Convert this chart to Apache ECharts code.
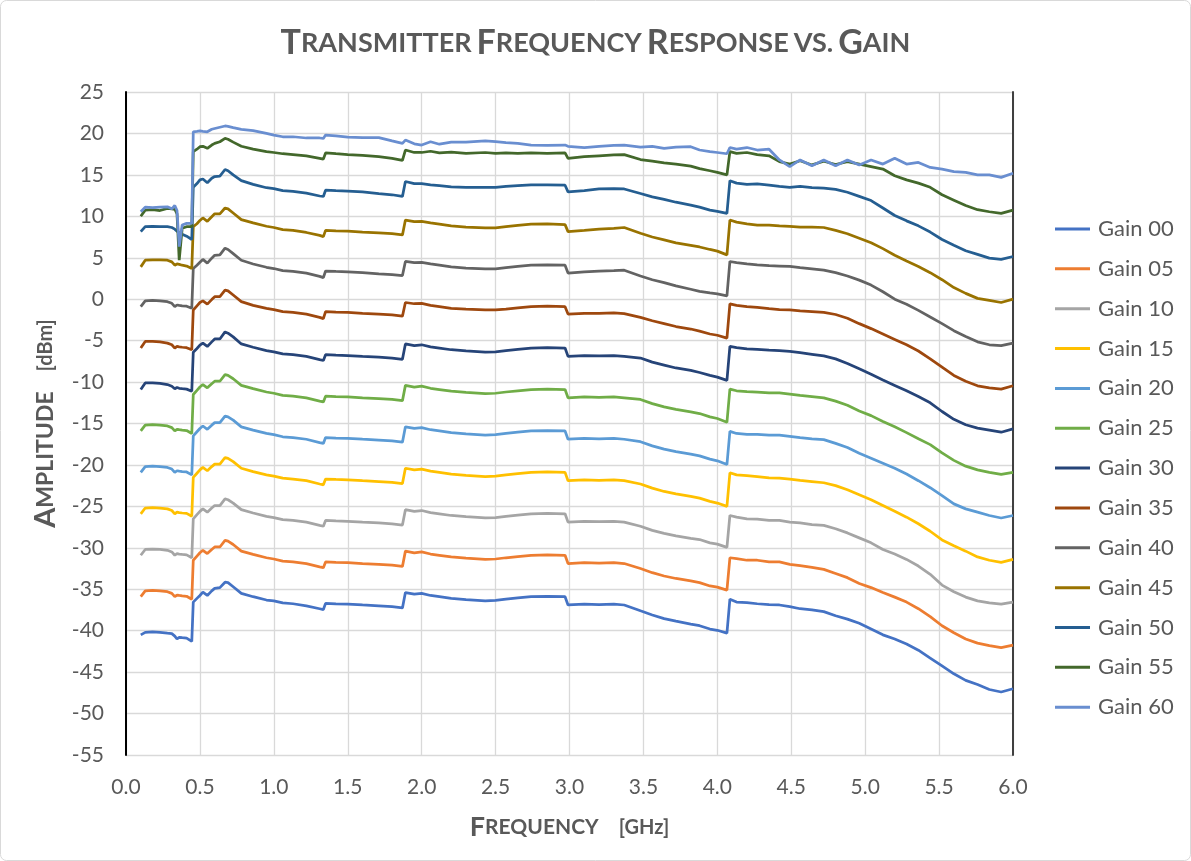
<!DOCTYPE html>
<html><head><meta charset="utf-8">
<script src="https://cdn.jsdelivr.net/npm/echarts@6/dist/echarts.min.js"></script>
<style>html,body{margin:0;padding:0;background:#fff}#c{width:1191px;height:861px}</style>
</head><body><div id="c"></div>
<script>
// Frequency sample points [GHz]
const freqs = [0.10,0.13,0.18,0.23,0.28,0.31,0.33,0.345,0.36,0.38,
 0.41,0.445,0.455,0.48,0.50,0.52,0.55,0.58,0.60,0.635,
 0.67,0.69,0.725,0.78,0.86,0.95,1.00,1.06,1.13,1.22,
 1.31,1.335,1.35,1.42,1.50,1.60,1.71,1.80,1.87,1.88,
 1.89,1.95,2.00,2.06,2.12,2.20,2.30,2.43,2.50,2.57,
 2.65,2.74,2.85,2.97,2.99,3.10,3.20,3.30,3.37,3.48,
 3.56,3.64,3.72,3.82,3.88,3.95,4.00,4.065,4.085,4.13,
 4.20,4.27,4.35,4.42,4.49,4.56,4.64,4.72,4.80,4.88,
 4.96,5.04,5.12,5.20,5.28,5.36,5.44,5.52,5.60,5.68,
 5.76,5.84,5.92,6.00];

const seriesNames = ['Gain 00','Gain 05','Gain 10','Gain 15','Gain 20','Gain 25','Gain 30','Gain 35','Gain 40','Gain 45','Gain 50','Gain 55','Gain 60'];
const seriesColors = ['#4472C4','#ED7D31','#A5A5A5','#FFC000','#5B9BD5','#70AD47','#264478','#9E480E','#636363','#997300','#255E91','#43682B','#698ED0'];

const xTicks = {min:0, max:6, step:0.5};
const yTicks = {min:-55, max:25, step:5};

const gain00 = [-40.5,-40.2,-40.15,-40.2,-40.3,-40.35,-40.65,-41.0,-40.8,-40.85,
 -40.9,-41.3,-36.55,-36.1,-35.75,-35.35,-35.75,-35.2,-34.9,-34.8,
 -34.15,-34.2,-34.7,-35.5,-35.9,-36.3,-36.4,-36.65,-36.75,-37.0,
 -37.35,-37.45,-36.7,-36.75,-36.8,-36.9,-37.0,-37.1,-37.25,-37.4,
 -35.4,-35.6,-35.5,-35.75,-35.9,-36.1,-36.25,-36.4,-36.35,-36.2,
 -36.05,-35.9,-35.85,-35.9,-36.9,-36.8,-36.85,-36.8,-36.9,-37.6,
 -38.1,-38.55,-38.85,-39.2,-39.4,-39.8,-39.95,-40.3,-36.2,-36.55,
 -36.6,-36.75,-36.85,-36.9,-37.1,-37.35,-37.5,-37.7,-38.2,-38.6,
 -39.1,-39.8,-40.5,-41.0,-41.6,-42.35,-43.3,-44.25,-45.2,-46.0,
 -46.5,-47.1,-47.4,-47.0];
const gain05 = [-35.9,-35.2,-35.15,-35.2,-35.3,-35.5,-35.9,-35.7,-35.75,-35.8,
 -35.85,-36.2,-31.5,-31.0,-30.6,-30.3,-30.7,-30.2,-29.9,-29.9,
 -29.1,-29.2,-29.6,-30.4,-30.8,-31.2,-31.35,-31.6,-31.7,-31.9,
 -32.3,-32.4,-31.7,-31.75,-31.8,-31.9,-32.0,-32.1,-32.25,-32.4,
 -30.4,-30.6,-30.5,-30.75,-30.9,-31.1,-31.25,-31.4,-31.35,-31.2,
 -31.05,-30.9,-30.85,-30.9,-31.9,-31.8,-31.85,-31.8,-31.9,-32.5,
 -33.0,-33.4,-33.7,-34.0,-34.2,-34.6,-34.75,-35.1,-31.2,-31.3,
 -31.5,-31.5,-31.7,-31.7,-32.0,-32.15,-32.35,-32.6,-33.1,-33.6,
 -34.3,-34.8,-35.4,-35.95,-36.55,-37.35,-38.3,-39.4,-40.25,-41.0,
 -41.5,-41.8,-42.05,-41.75];
const gain10 = [-30.9,-30.2,-30.15,-30.2,-30.3,-30.5,-30.9,-30.7,-30.75,-30.8,
 -30.85,-31.2,-26.5,-26.0,-25.6,-25.3,-25.7,-25.2,-24.9,-24.9,
 -24.1,-24.2,-24.6,-25.4,-25.8,-26.2,-26.35,-26.6,-26.7,-26.9,
 -27.3,-27.4,-26.7,-26.75,-26.8,-26.9,-27.0,-27.1,-27.25,-27.4,
 -25.4,-25.6,-25.5,-25.75,-25.9,-26.1,-26.25,-26.4,-26.35,-26.2,
 -26.05,-25.9,-25.85,-25.9,-26.9,-26.8,-26.85,-26.8,-26.9,-27.4,
 -27.9,-28.25,-28.55,-28.85,-29.0,-29.4,-29.55,-29.95,-26.1,-26.3,
 -26.5,-26.55,-26.7,-26.7,-26.9,-27.0,-27.2,-27.3,-27.7,-28.2,
 -28.8,-29.4,-30.2,-30.75,-31.4,-32.2,-33.2,-34.5,-35.3,-35.95,
 -36.4,-36.65,-36.8,-36.55];
const gain15 = [-25.9,-25.2,-25.15,-25.2,-25.3,-25.5,-25.9,-25.7,-25.75,-25.8,
 -25.85,-26.2,-21.5,-21.0,-20.6,-20.3,-20.7,-20.2,-19.9,-19.9,
 -19.1,-19.2,-19.6,-20.4,-20.8,-21.2,-21.35,-21.6,-21.7,-21.9,
 -22.3,-22.4,-21.7,-21.75,-21.8,-21.9,-22.0,-22.1,-22.25,-22.4,
 -20.4,-20.6,-20.5,-20.75,-20.9,-21.1,-21.25,-21.4,-21.35,-21.2,
 -21.05,-20.9,-20.85,-20.9,-21.9,-21.8,-21.85,-21.8,-21.9,-22.3,
 -22.8,-23.2,-23.5,-23.8,-24.0,-24.4,-24.6,-25.0,-20.95,-21.2,
 -21.3,-21.4,-21.55,-21.6,-21.7,-21.85,-22.0,-22.15,-22.5,-23.0,
 -23.6,-24.2,-24.9,-25.6,-26.3,-27.1,-28.0,-29.05,-29.75,-30.4,
 -31.1,-31.5,-31.75,-31.4];
const gain20 = [-20.9,-20.2,-20.15,-20.2,-20.3,-20.5,-20.9,-20.7,-20.75,-20.8,
 -20.85,-21.2,-16.5,-16.0,-15.6,-15.3,-15.7,-15.2,-14.9,-14.9,
 -14.1,-14.2,-14.6,-15.4,-15.8,-16.2,-16.35,-16.6,-16.7,-16.9,
 -17.3,-17.4,-16.7,-16.75,-16.8,-16.9,-17.0,-17.1,-17.25,-17.4,
 -15.4,-15.6,-15.5,-15.75,-15.9,-16.1,-16.25,-16.4,-16.35,-16.2,
 -16.05,-15.9,-15.85,-15.9,-16.9,-16.8,-16.85,-16.8,-16.9,-17.2,
 -17.7,-18.1,-18.4,-18.7,-18.9,-19.3,-19.5,-19.95,-15.95,-16.2,
 -16.3,-16.3,-16.4,-16.4,-16.55,-16.7,-16.85,-16.95,-17.4,-17.9,
 -18.6,-19.2,-19.8,-20.4,-21.1,-21.9,-22.75,-23.7,-24.7,-25.3,
 -25.7,-26.1,-26.4,-26.1];
const gain25 = [-15.9,-15.2,-15.15,-15.2,-15.3,-15.5,-15.9,-15.7,-15.75,-15.8,
 -15.85,-16.2,-11.5,-11.0,-10.6,-10.3,-10.7,-10.2,-9.9,-9.9,
 -9.1,-9.2,-9.6,-10.4,-10.8,-11.2,-11.35,-11.6,-11.7,-11.9,
 -12.3,-12.4,-11.7,-11.75,-11.8,-11.9,-12.0,-12.1,-12.25,-12.4,
 -10.4,-10.6,-10.5,-10.75,-10.9,-11.1,-11.25,-11.4,-11.35,-11.2,
 -11.05,-10.9,-10.85,-10.9,-11.9,-11.8,-11.85,-11.8,-11.9,-12.1,
 -12.6,-13.0,-13.3,-13.6,-13.8,-14.2,-14.4,-14.85,-10.85,-11.05,
 -11.15,-11.2,-11.3,-11.3,-11.45,-11.6,-11.75,-11.9,-12.3,-12.8,
 -13.5,-14.05,-14.75,-15.4,-16.1,-16.85,-17.55,-18.55,-19.45,-20.15,
 -20.6,-20.9,-21.15,-20.9];
const gain30 = [-10.9,-10.1,-10.1,-10.15,-10.3,-10.5,-10.8,-10.65,-10.75,-10.8,
 -10.85,-11.1,-6.4,-5.95,-5.55,-5.3,-5.7,-5.15,-4.8,-4.8,
 -3.95,-4.1,-4.55,-5.4,-5.8,-6.2,-6.35,-6.6,-6.7,-6.9,
 -7.3,-7.4,-6.7,-6.75,-6.8,-6.9,-7.0,-7.1,-7.25,-7.4,
 -5.4,-5.6,-5.5,-5.75,-5.9,-6.1,-6.25,-6.4,-6.35,-6.2,
 -6.05,-5.9,-5.85,-5.9,-6.9,-6.8,-6.85,-6.8,-6.9,-7.1,
 -7.6,-7.95,-8.3,-8.6,-8.85,-9.2,-9.4,-9.8,-5.7,-5.85,
 -6.0,-6.05,-6.15,-6.2,-6.3,-6.45,-6.65,-6.85,-7.2,-7.75,
 -8.4,-9.05,-9.75,-10.4,-11.05,-11.75,-12.5,-13.55,-14.5,-15.15,
 -15.55,-15.8,-16.05,-15.65];
const gain35 = [-5.9,-5.1,-5.1,-5.15,-5.3,-5.5,-5.9,-5.7,-5.75,-5.8,
 -5.85,-6.1,-1.3,-0.8,-0.4,-0.2,-0.6,-0.05,0.3,0.3,
 1.1,1.0,0.5,-0.3,-0.75,-1.1,-1.25,-1.5,-1.6,-1.8,
 -2.2,-2.35,-1.5,-1.55,-1.6,-1.7,-1.8,-1.9,-2.05,-2.2,
 -0.4,-0.55,-0.5,-0.75,-0.9,-1.1,-1.2,-1.3,-1.3,-1.2,
 -1.05,-0.9,-0.85,-0.9,-1.8,-1.7,-1.7,-1.65,-1.75,-2.2,
 -2.6,-2.95,-3.3,-3.6,-3.85,-4.2,-4.35,-4.7,-0.57,-0.75,
 -0.9,-1.0,-1.15,-1.25,-1.3,-1.4,-1.5,-1.6,-1.85,-2.3,
 -2.95,-3.55,-4.2,-4.85,-5.5,-6.25,-7.2,-8.2,-9.2,-9.9,
 -10.45,-10.7,-10.85,-10.45];
const gain40 = [-0.9,-0.2,-0.15,-0.2,-0.3,-0.5,-0.9,-0.7,-0.75,-0.8,
 -0.85,-1.1,3.7,4.1,4.45,4.8,4.35,4.95,5.3,5.35,
 6.15,6.0,5.5,4.7,4.25,3.85,3.7,3.45,3.35,3.15,
 2.75,2.6,3.4,3.35,3.3,3.2,3.05,2.95,2.85,2.7,
 4.55,4.4,4.45,4.25,4.1,3.9,3.75,3.65,3.65,3.8,
 3.95,4.1,4.15,4.1,3.15,3.3,3.4,3.45,3.5,2.8,
 2.35,2.0,1.6,1.2,0.95,0.75,0.65,0.4,4.55,4.4,
 4.25,4.15,4.05,4.0,3.95,3.8,3.65,3.5,3.2,2.8,
 2.3,1.7,0.9,0.0,-0.6,-1.35,-2.15,-2.95,-3.8,-4.5,
 -5.15,-5.5,-5.6,-5.3];
const gain45 = [3.9,4.7,4.75,4.75,4.7,4.5,4.1,4.25,4.2,4.1,
 4.0,3.7,8.75,9.1,9.5,9.8,9.4,9.95,10.3,10.3,
 11.0,10.9,10.4,9.6,9.2,8.8,8.65,8.4,8.3,8.05,
 7.7,7.55,8.3,8.25,8.2,8.1,8.0,7.9,7.75,7.6,
 9.55,9.35,9.4,9.2,9.05,8.85,8.7,8.6,8.6,8.75,
 8.9,9.05,9.1,9.0,8.15,8.3,8.45,8.55,8.65,7.95,
 7.5,7.15,6.8,6.5,6.3,6.0,5.8,5.35,9.55,9.3,
 9.1,8.95,8.95,8.85,8.8,8.7,8.7,8.65,8.3,7.9,
 7.35,6.8,6.1,5.3,4.6,3.95,3.2,2.35,1.4,0.7,
 0.1,-0.15,-0.4,0.0];
const gain50 = [8.15,8.75,8.8,8.75,8.75,8.65,8.45,8.2,8.0,7.85,
 7.6,7.2,13.5,13.95,14.4,14.5,14.05,14.6,14.8,14.85,
 15.65,15.5,15.0,14.3,13.85,13.45,13.35,13.1,13.0,12.8,
 12.45,12.4,13.15,13.1,13.05,12.95,12.75,12.6,12.4,12.3,
 14.2,13.95,13.95,13.8,13.7,13.55,13.5,13.5,13.5,13.6,
 13.7,13.8,13.8,13.75,12.95,13.1,13.3,13.35,13.3,12.75,
 12.35,12.05,11.7,11.35,11.1,10.75,10.6,10.35,14.3,14.0,
 13.85,13.9,13.75,13.6,13.5,13.6,13.45,13.4,13.25,12.9,
 12.4,11.9,11.0,10.1,9.45,8.85,8.1,7.2,6.5,5.85,
 5.4,4.95,4.8,5.15];
const gain55 = [10.0,10.75,10.8,10.7,10.95,10.9,10.85,10.3,4.7,8.55,
 8.75,8.75,17.8,18.1,18.4,18.45,18.2,18.6,18.8,19.0,
 19.4,19.3,18.95,18.45,18.1,17.8,17.7,17.55,17.45,17.3,
 17.0,16.9,17.65,17.55,17.45,17.35,17.2,17.0,16.75,16.7,
 18.0,17.7,17.7,17.85,17.65,17.75,17.6,17.7,17.6,17.65,
 17.6,17.65,17.6,17.65,17.0,17.2,17.3,17.4,17.45,16.85,
 16.65,16.45,16.3,16.05,15.75,15.5,15.3,15.0,17.8,17.6,
 17.7,17.45,17.3,16.6,16.3,16.7,16.2,16.65,16.25,16.6,
 16.3,16.0,15.7,14.9,14.4,14.0,13.5,12.6,11.95,11.3,
 10.8,10.55,10.35,10.75];
const gain60 = [10.55,11.1,11.05,11.1,11.15,10.9,11.3,10.7,6.35,8.95,
 9.15,9.15,20.2,20.25,20.3,20.25,20.2,20.5,20.6,20.75,
 20.9,20.85,20.7,20.5,20.35,20.0,19.8,19.6,19.6,19.45,
 19.45,19.4,19.8,19.7,19.55,19.5,19.5,19.1,18.8,18.85,
 19.2,18.75,18.6,19.0,18.7,18.95,18.95,19.1,19.0,18.9,
 18.8,18.6,18.55,18.6,18.45,18.3,18.45,18.55,18.6,18.35,
 18.45,18.2,18.35,18.4,18.0,17.8,17.7,17.55,18.3,18.1,
 18.3,18.0,18.1,16.8,16.0,16.8,16.1,16.8,16.1,16.8,
 16.2,16.8,16.3,17.0,16.3,16.5,15.9,15.7,15.4,15.3,
 15.0,15.0,14.7,15.2];

const seriesValues = [gain00,gain05,gain10,gain15,gain20,gain25,gain30,gain35,gain40,gain45,gain50,gain55,gain60];

const FONT = 'Lato, "Open Sans", sans-serif';
const TXT = '#595959';

const chart = echarts.init(document.getElementById('c'), null, {renderer:'canvas'});
const option = {
  backgroundColor: '#ffffff',
  animation: false,
  graphic: [{
    type: 'rect', z: -10,
    shape: {x: 0.5, y: 0.5, width: 1190, height: 860, r: 6},
    style: {fill: 'none', stroke: '#D9D9D9', lineWidth: 1}
  }],
  title: {
    text: '{a|T}{b|RANSMITTER} {a|F}{b|REQUENCY} {a|R}{b|ESPONSE} {b|VS.} {a|G}{b|AIN}',
    left: 'center', top: 21,
    textStyle: {
      rich: {
        a: {fontSize: 34, fontWeight: 'bold', color: TXT, fontFamily: FONT},
        b: {fontSize: 27, fontWeight: 'bold', color: TXT, fontFamily: FONT}
      }
    }
  },
  grid: {left: 126, right: 178, top: 92, bottom: 106, containLabel: false},
  legend: {
    orient: 'vertical', left: 1050, top: 213,
    itemWidth: 35, itemHeight: 3, itemGap: 17.85,
    icon: 'rect',
    data: seriesNames,
    textStyle: {fontSize: 22, color: TXT, fontFamily: FONT, lineHeight: 21, padding: [0,0,0,3]}
  },
  xAxis: {
    type: 'value', min: xTicks.min, max: xTicks.max, interval: xTicks.step,
    name: '{a|F}{b|REQUENCY}      {c|[GHz]}',
    nameLocation: 'middle', nameGap: 59,
    nameTextStyle: {rich: {
      a: {fontSize: 27, fontWeight: 'bold', color: TXT, fontFamily: FONT},
      b: {fontSize: 21, fontWeight: 'bold', color: TXT, fontFamily: FONT},
      c: {fontSize: 20, fontWeight: 'bold', color: TXT, fontFamily: FONT}
    }},
    axisLine: {show: false},
    axisTick: {show: false},
    axisLabel: {fontSize: 21, color: TXT, fontFamily: FONT, margin: 22, formatter: v => v.toFixed(1)},
    splitLine: {show: true, lineStyle: {color: '#D9D9D9', width: 1.3}}
  },
  yAxis: [{
    type: 'value', min: yTicks.min, max: yTicks.max, interval: yTicks.step,
    name: '{a|A}{b|MPLITUDE}      {c|[dBm]}',
    nameLocation: 'middle', nameGap: 66,
    nameTextStyle: {rich: {
      a: {fontSize: 29, fontWeight: 'bold', color: TXT, fontFamily: FONT},
      b: {fontSize: 23, fontWeight: 'bold', color: TXT, fontFamily: FONT},
      c: {fontSize: 20, fontWeight: 'bold', color: TXT, fontFamily: FONT}
    }},
    axisLine: {show: true, onZero: false, lineStyle: {color: '#000000', width: 2}},
    axisTick: {show: false},
    axisLabel: {fontSize: 21, color: TXT, fontFamily: FONT, margin: 22},
    splitLine: {show: true, lineStyle: {color: '#D9D9D9', width: 1.3}}
  }, {
    type: 'value', position: 'right', min: yTicks.min, max: yTicks.max, interval: yTicks.step,
    axisLine: {show: true, onZero: false, lineStyle: {color: '#404040', width: 2}},
    axisTick: {show: false}, axisLabel: {show: false}, splitLine: {show: false}
  }],
  series: seriesNames.map((name, k) => ({
    name: name,
    type: 'line',
    yAxisIndex: 0,
    symbol: 'none',
    color: seriesColors[k],
    lineStyle: {width: 2.75, color: seriesColors[k]},
    data: freqs.map((f, i) => [f, seriesValues[k][i]])
  }))
};
chart.setOption(option);
</script>
</body></html>
